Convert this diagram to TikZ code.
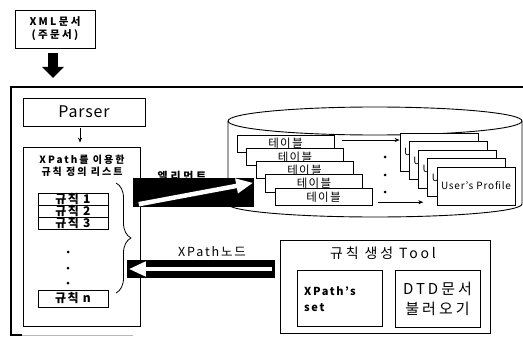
\documentclass[tikz,border=0pt]{standalone}
\usepackage{fontspec}
\setmainfont{Noto Sans CJK KR}
\usetikzlibrary{arrows.meta,decorations.pathreplacing}
\begin{document}
\begin{tikzpicture}[x=1pt,y=-1pt,
  box/.style={draw, line width=0.8pt, fill=white, inner sep=0pt, align=center},
  band/.style={fill=black, draw=none},
  warrow/.style={draw=white, line width=4.5pt, -{Triangle[length=17pt,width=14pt,fill=white]}},
  thin arrow/.style={line width=0.6pt, -{Stealth[length=5pt,width=4pt]}},
  dotm/.style={fill=black, circle, inner sep=0pt, minimum size=3pt},
  tbl/.style={box, minimum width=97pt, minimum height=17pt, font=\fontsize{11.5}{12}\selectfont\addfontfeature{LetterSpace=12}},
  prof/.style={box, minimum width=78pt, minimum height=38pt, font=\fontsize{10}{12}\selectfont\addfontfeature{LetterSpace=8}},
  rule/.style={box, minimum width=70pt, font=\bfseries\fontsize{12}{12}\selectfont\addfontfeature{LetterSpace=12}}
]
\useasboundingbox (0,0) rectangle (523,337);

% outer frame
\draw[line width=1.1pt] (523,87) -- (11,87) -- (11,335) -- (22,335);
\draw[gray!55, line width=1pt] (22,335) -- (133,335);

% XML document
\node[box, minimum width=80pt, minimum height=38pt, font=\bfseries\fontsize{10.5}{13}\selectfont\addfontfeature{LetterSpace=22}] (xml) at (55,29) {XML문서\\(주문서)};
\coordinate (xmlend) at (53,78);
\draw[line width=10pt, -{Triangle[length=11pt,width=21pt]}] ([yshift=-5pt]xml.south -| xmlend) -- (xmlend);

% Parser
\node[box, minimum width=122pt, minimum height=28pt, font=\fontsize{16}{16}\selectfont\addfontfeature{LetterSpace=5}] (parser) at (84,112) {Parser};

% rule list
\node[box, minimum width=117pt, minimum height=179pt] (list) at (81.5,236.5) {};
\node[font=\bfseries\fontsize{10}{12}\selectfont\addfontfeature{LetterSpace=20}, inner sep=0pt] (lt1) at (82,160) {XPath를 이용한};
\node[font=\bfseries\fontsize{10}{12}\selectfont\addfontfeature{LetterSpace=20}, inner sep=0pt] (lt2) at (82,172) {규칙 정의 리스트};
\draw[thin arrow] ([yshift=-2pt]parser.south -| 80,0) -- ([yshift=4pt]list.north -| 80,0);

\node[rule, minimum height=12pt] (r1) at (73,199) {규칙 1};
\node[rule, minimum height=12pt] (r2) at (73,211) {규칙 2};
\node[rule, minimum height=12pt] (r3) at (73,223) {규칙 3};
\node[dotm] (d1) at (68,252) {};
\node[dotm] (d2) at (68,268) {};
\node[dotm] (d3) at (68,283) {};
\node[rule, minimum height=17pt] (rn) at (73,298.5) {규칙 n};
\coordinate (bt) at (116,183);
\coordinate (bb) at (116,293);
\draw[line width=0.8pt, decorate, decoration={brace, amplitude=15pt}] (bt) -- (bb);

% database cylinder
\filldraw[fill=white, line width=0.9pt] (228,121) -- (228,204)
  arc[start angle=180, end angle=0, x radius=147, y radius=13] -- (522,121)
  arc[start angle=0, end angle=-180, x radius=147, y radius=14] -- cycle;
\draw[line width=0.9pt] (228,121) arc[start angle=180, end angle=0, x radius=147, y radius=14];

% element label and band
\node[font=\bfseries\fontsize{11}{12}\selectfont\addfontfeature{LetterSpace=25}, inner sep=0pt] (ellab) at (182,176) {엘리먼트};
\node[band, minimum width=121pt, minimum height=29pt, inner sep=0pt] (band1) at (193.5,192.5) {};
\draw[warrow] ([shift={(6pt,3pt)}]band1.south west) -- ([shift={(-1pt,-5pt)}]band1.north east);

% tables
\node[tbl] (t1) at (285.5,143.5) {테이블};
\node[tbl] (t2) at (295,156.8) {테이블};
\node[tbl] (t3) at (304.5,170.1) {테이블};
\node[tbl] (t4) at (314,183.4) {테이블};
\node[tbl] (t5) at (323.5,196.7) {테이블};

% profiles
\node[prof] (p1) at (439,152) {User's Profile};
\node[prof] (p2) at (448.25,160.5) {User's Profile};
\node[prof] (p3) at (457.5,169) {User's Profile};
\node[prof] (p4) at (466.75,177.5) {User's Profile};
\node[prof] (p5) at (476,186) {User's Profile};

\draw[thin arrow] ([xshift=8pt,yshift=3.5pt]t1.east) -- ([yshift=3.5pt]t1.east -| p1.west);
\draw[thin arrow, shorten >=4pt] ([xshift=6pt,yshift=-5.5pt]t5.east) -- ([yshift=-5.5pt]t5.east -| p4.west);
\node[dotm] (e1) at (385,157) {};
\node[dotm] (e2) at (385,175) {};
\node[dotm] (e3) at (385,192) {};

% XPath node band
\node[font=\fontsize{12.5}{13}\selectfont\addfontfeature{LetterSpace=15}, inner sep=0pt] (xplab) at (212,252) {XPath노드};
\node[band, minimum width=148pt, minimum height=18pt, inner sep=0pt] (band2) at (201,269) {};
\draw[warrow] ([xshift=-3pt]band2.east) -- ([xshift=2pt]band2.west);

% rule generation tool
\node[box, minimum width=210pt, minimum height=93pt] (tool) at (385,286.5) {};
\node[font=\fontsize{14}{14}\selectfont\addfontfeature{LetterSpace=20}, inner sep=0pt] (tooltitle) at (383,253) {규칙 생성 Tool};
\node[box, minimum width=85pt, minimum height=56pt] (xps) at (339.5,298) {};
\node[font=\bfseries\fontsize{11}{16}\selectfont\addfontfeature{LetterSpace=15}, align=left, inner sep=0pt, anchor=west] (xpst) at (304,299.5) {XPath's\\set};
\node[box, minimum width=85pt, minimum height=57pt, font=\fontsize{15}{20}\selectfont\addfontfeature{LetterSpace=20}] (dtd) at (437.5,298.5) {DTD문서\\불러오기};
\end{tikzpicture}
\end{document}
